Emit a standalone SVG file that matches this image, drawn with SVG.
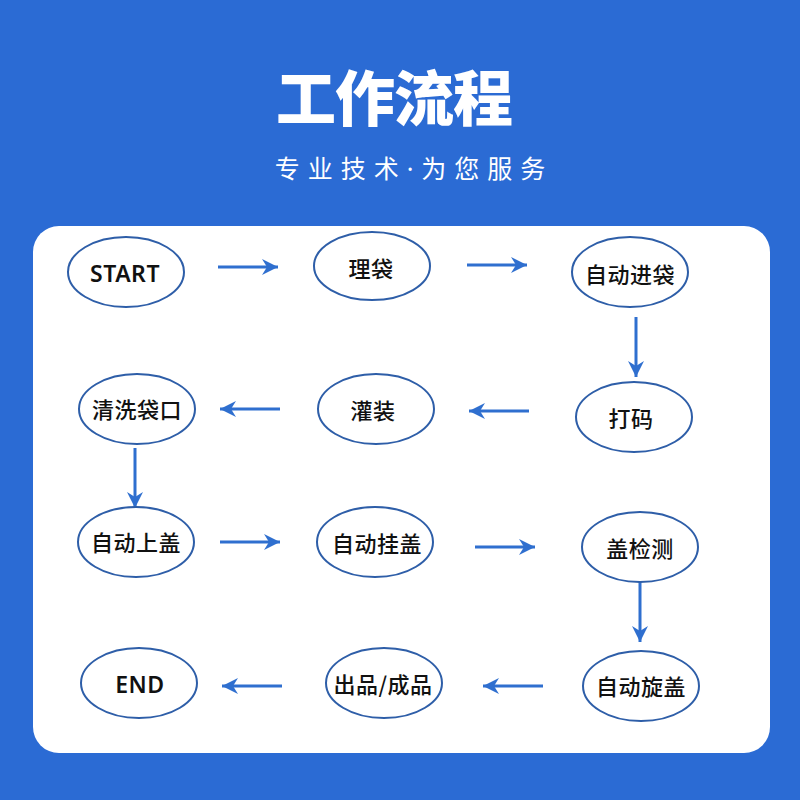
<svg xmlns="http://www.w3.org/2000/svg" width="800" height="800" viewBox="0 0 800 800">
<defs>
<style>
.node ellipse{fill:#fff;stroke:#2E5EA8;stroke-width:2}
.node text{font-family:"Noto Sans CJK SC","Noto Sans",sans-serif;font-size:22px;font-weight:500;fill:#111;text-anchor:middle;dominant-baseline:central;letter-spacing:0.5px}
.node text.en{font-family:"Noto Sans","Noto Sans CJK SC",sans-serif;font-weight:600;font-size:23px;letter-spacing:0.5px}
.conn line{stroke:#2F6FCF;stroke-width:3;marker-end:url(#ah)}
</style>
<marker id="ah" markerUnits="userSpaceOnUse" markerWidth="18" markerHeight="16" refX="16" refY="8" orient="auto">
<path d="M0,0 L16,8 L0,16 L5,8 Z" fill="#2F6FCF"/>
</marker>
</defs>
<rect x="0" y="0" width="800" height="800" fill="#2B6BD4"/>
<text x="394" y="121" text-anchor="middle" font-family="Noto Sans CJK SC,sans-serif" font-weight="900" font-size="60" fill="#fff" letter-spacing="-1">工作流程</text>
<text x="414" y="178" text-anchor="middle" font-family="'Noto Sans','Noto Sans CJK SC',sans-serif" font-size="25" fill="#fff" letter-spacing="8">专业技术·为您服务</text>
<rect x="33" y="226" width="737" height="527" rx="26" fill="#fff"/>
<g class="conn">
<line x1="218" y1="267" x2="278" y2="267"/>
<line x1="467" y1="265" x2="527" y2="265"/>
<line x1="636" y1="317" x2="636" y2="377"/>
<line x1="529" y1="411" x2="469" y2="411"/>
<line x1="280" y1="409" x2="220" y2="409"/>
<line x1="135" y1="448" x2="135" y2="508"/>
<line x1="220" y1="542" x2="280" y2="542"/>
<line x1="475" y1="547" x2="535" y2="547"/>
<line x1="640" y1="582" x2="640" y2="642"/>
<line x1="543" y1="686" x2="483" y2="686"/>
<line x1="282" y1="686" x2="222" y2="686"/>
</g>
<g id="start" class="node"><ellipse cx="126" cy="272" rx="58" ry="35"/><text class="en" x="125" y="273">START</text></g>
<g id="lidai" class="node"><ellipse cx="372" cy="266" rx="58" ry="34"/><text x="371" y="267">理袋</text></g>
<g id="jindai" class="node"><ellipse cx="630" cy="272" rx="58" ry="35"/><text x="630" y="273">自动进袋</text></g>
<g id="dama" class="node"><ellipse cx="634" cy="417" rx="58" ry="35"/><text x="631" y="417">打码</text></g>
<g id="guanzhuang" class="node"><ellipse cx="376" cy="409" rx="58" ry="35"/><text x="373" y="409">灌装</text></g>
<g id="qingxi" class="node"><ellipse cx="137" cy="409" rx="58" ry="35"/><text x="137" y="408">清洗袋口</text></g>
<g id="shanggai" class="node"><ellipse cx="136" cy="542" rx="58" ry="35"/><text x="136" y="541">自动上盖</text></g>
<g id="guagai" class="node"><ellipse cx="375" cy="542" rx="58" ry="35"/><text x="377" y="542">自动挂盖</text></g>
<g id="jiance" class="node"><ellipse cx="640" cy="547" rx="58" ry="35"/><text x="640" y="547">盖检测</text></g>
<g id="xuangai" class="node"><ellipse cx="641" cy="686" rx="58" ry="35"/><text x="641" y="685">自动旋盖</text></g>
<g id="chupin" class="node"><ellipse cx="384" cy="683" rx="58" ry="35"/><text x="383" y="683">出品/成品</text></g>
<g id="end" class="node"><ellipse cx="139" cy="683" rx="58" ry="35"/><text class="en" x="140" y="684">END</text></g>
</svg>
